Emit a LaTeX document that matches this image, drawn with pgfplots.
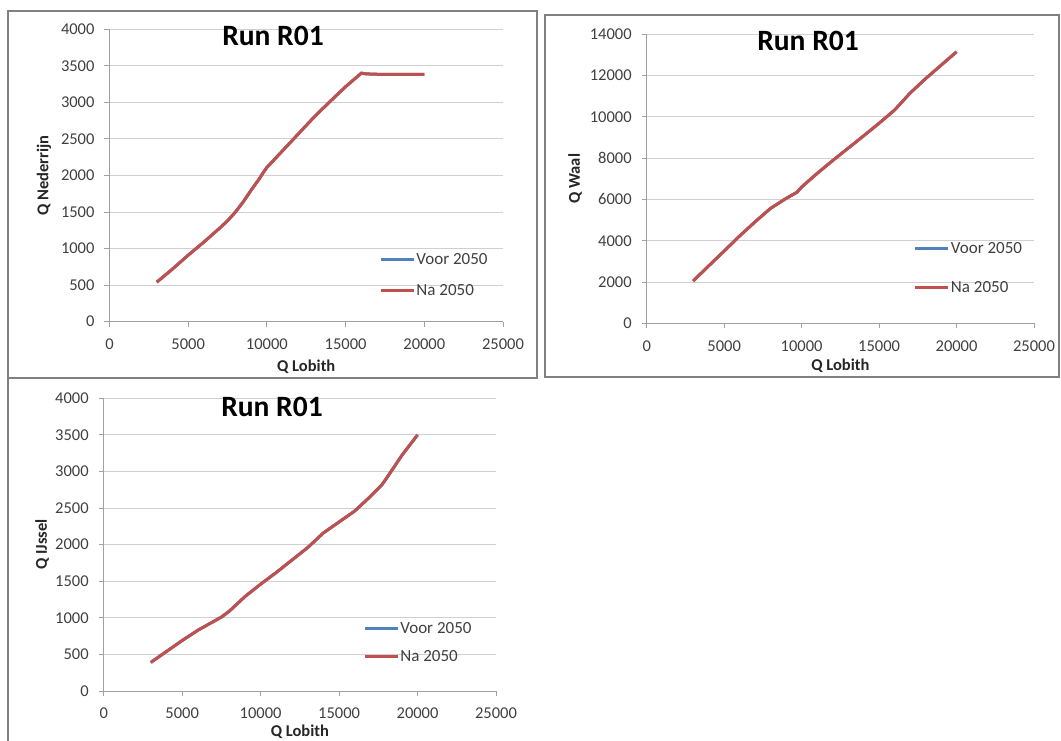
\documentclass[border=0pt]{standalone}
\usepackage{fontspec}
\setmainfont{Carlito}
\usepackage{pgfplots}
\pgfplotsset{compat=1.18}
\usepackage{pgfplotstable}

\definecolor{voor}{HTML}{4F81BD}
\definecolor{na}{HTML}{C0504D}
\definecolor{gridc}{HTML}{D0D0D0}
\definecolor{axc}{HTML}{A0A0A0}
\definecolor{framec}{HTML}{808080}
\definecolor{tickc}{HTML}{404040}

\pgfplotstableread{
x y
3000 540
4000 720
5000 910
6000 1090
7000 1280
7500 1380
8000 1500
8500 1640
9000 1800
9500 1950
9800 2050
10000 2110
11000 2340
12000 2570
13000 2800
14000 3010
15000 3215
16000 3400
16300 3390
17000 3385
18000 3385
19000 3385
20000 3385
}\nederrijn

\pgfplotstableread{
x y
3000 2050
4000 2780
5000 3500
6000 4230
7000 4920
8000 5570
9000 6050
9700 6350
10000 6600
11000 7260
12000 7880
13000 8480
14000 9080
15000 9690
16000 10330
17000 11150
18000 11850
19000 12500
20000 13150
}\waal

\pgfplotstableread{
x y
3000 390
4000 540
5000 690
6000 830
7000 950
7500 1010
8000 1090
9000 1290
10000 1460
11000 1620
12000 1790
13000 1960
14000 2160
15000 2310
16000 2460
17000 2660
17700 2810
18000 2900
19000 3220
20000 3500
}\ijssel

\pgfplotsset{
  excel/.style={
    scale only axis,
    anchor=south west,
    xmin=0, xmax=25000,
    xtick={0,5000,...,25000},
    axis x line*=bottom,
    axis y line*=left,
    axis line style={axc, line width=1pt},
    every tick/.style={axc, line width=1pt},
    tick align=outside,
    major tick length=5pt,
    ymajorgrids,
    grid style={gridc, line width=1pt},
    /pgf/number format/assume math mode=true,
    /pgf/number format/1000 sep={},
    scaled ticks=false,
    ticklabel style={font=\fontsize{16.5}{19}\selectfont, text=tickc},
    yticklabel style={xshift=-6.5pt},
    xticklabel style={yshift=-8.5pt},
    label style={font=\fontsize{16.5}{19}\selectfont\bfseries, text=black!85},
    title style={font=\fontsize{29.5}{34}\selectfont\bfseries, anchor=base, yshift=0pt},
    legend style={draw=none, fill=none, inner sep=0pt, outer sep=0pt,
      font=\fontsize{17}{20}\selectfont, text=tickc,
      nodes={inner sep=1pt}, anchor=west},
    legend cell align=left,
    legend image code/.code={\draw[#1] (0pt,0pt) -- (33pt,0pt);},
    every axis plot/.append style={line width=3pt, no markers},
  }
}

\begin{document}
\begin{tikzpicture}[x=1pt,y=1pt]
\useasboundingbox (0,0) rectangle (1061,740);
\fill[white] (0,0) rectangle (1061,740);
% panel frames
\draw[framec, line width=2pt] (8,362) rectangle (537,729);
\draw[framec, line width=2pt] (545,363) rectangle (1059,725);
\draw[framec, line width=2pt] (8,-5) -- (8,362);

% Panel 1: Nederrijn
\begin{axis}[excel, at={(109.5pt,418.3pt)}, width=393.5pt, height=292.4pt,
  ymin=0, ymax=4000, ytick={0,500,...,4000},
  xlabel={Q Lobith}, ylabel={Q Nederrijn},
  xlabel style={at={(axis description cs:0.5,-0.155)}, anchor=center},
  ylabel style={at={(axis description cs:-0.1665,0.5)}, rotate=0, anchor=center},
  title={Run R01}, title style={at={(axis description cs:0.4155,0.9224)}},
  legend style={at={(axis description cs:0.686,0.16)}, row sep=16.5pt},
]
\addplot[voor] table[x=x,y=y] {\nederrijn};
\addlegendentry{Voor 2050}
\addplot[na] table[x=x,y=y] {\nederrijn};
\addlegendentry{Na 2050}
\end{axis}

% Panel 2: Waal
\begin{axis}[excel, at={(646.7pt,416.7pt)}, width=387.3pt, height=289pt,
  ymin=0, ymax=14000, ytick={0,2000,...,14000},
  xlabel={Q Lobith}, ylabel={Q Waal},
  xlabel style={at={(axis description cs:0.5,-0.148)}, anchor=center},
  ylabel style={at={(axis description cs:-0.185,0.5)}, rotate=0, anchor=center},
  title={Run R01}, title style={at={(axis description cs:0.4165,0.9215)}},
  legend style={at={(axis description cs:0.690,0.191)}, row sep=24.5pt},
]
\addplot[voor] table[x=x,y=y] {\waal};
\addlegendentry{Voor 2050}
\addplot[na] table[x=x,y=y] {\waal};
\addlegendentry{Na 2050}
\end{axis}

% Panel 3: IJssel
\begin{axis}[excel, at={(103.7pt,49pt)}, width=392.3pt, height=292.7pt,
  ymin=0, ymax=4000, ytick={0,500,...,4000},
  xlabel={Q Lobith}, ylabel={Q IJssel},
  xlabel style={at={(axis description cs:0.5,-0.140)}, anchor=center},
  ylabel style={at={(axis description cs:-0.157,0.5)}, rotate=0, anchor=center},
  title={Run R01}, title style={at={(axis description cs:0.429,0.919)}},
  legend style={at={(axis description cs:0.662,0.166)}, row sep=13.5pt},
]
\addplot[voor] table[x=x,y=y] {\ijssel};
\addlegendentry{Voor 2050}
\addplot[na] table[x=x,y=y] {\ijssel};
\addlegendentry{Na 2050}
\end{axis}
\end{tikzpicture}
\end{document}
